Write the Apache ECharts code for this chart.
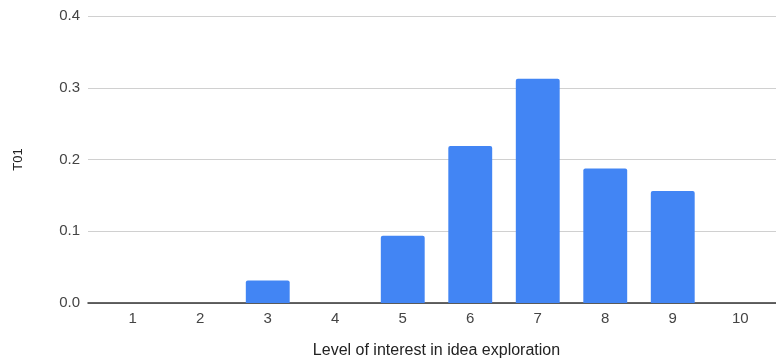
<!DOCTYPE html>
<html>
<head>
<meta charset="utf-8">
<script src="https://cdn.jsdelivr.net/npm/echarts@6/dist/echarts.min.js"></script>
<style>html,body{margin:0;padding:0;background:#fff}#c{width:776px;height:360px}</style>
</head>
<body>
<div id="c"></div>
<script>
const categories = ['1','2','3','4','5','6','7','8','9','10'];
const values = [0, 0, 0.03125, 0, 0.09375, 0.21875, 0.3125, 0.1875, 0.15625, 0];
const yTicks = [0, 0.1, 0.2, 0.3, 0.4];
const xTitle = 'Level of interest in idea exploration';
const yTitle = 'T01';

const font = 'Arial, "Liberation Sans", sans-serif';
const chart = echarts.init(document.getElementById('c'), null, {renderer: 'canvas'});
chart.setOption({
  animation: false,
  textStyle: {fontFamily: font},
  grid: [
    {left: 88, right: 0, top: 16, bottom: 57, containLabel: false, outerBoundsMode: 'none'},
    {left: 99, right: 2, top: 16, bottom: 57, containLabel: false, outerBoundsMode: 'none'}
  ],
  xAxis: [
    {gridIndex: 0, type: 'value', min: 0, max: 1, axisLine: {show: true, onZero: false, lineStyle: {color: '#333', width: 1.5}},
     axisTick: {show: false}, axisLabel: {show: false}, splitLine: {show: false}},
    {gridIndex: 1, type: 'category', data: categories, axisLine: {show: false}, axisTick: {show: false},
     axisLabel: {color: '#444', fontSize: 15, margin: 8, fontFamily: font},
     name: xTitle, nameLocation: 'middle', nameGap: 40,
     nameTextStyle: {color: '#222', fontSize: 16, fontFamily: font}}
  ],
  yAxis: [
    {gridIndex: 0, type: 'value', min: yTicks[0], max: yTicks[yTicks.length-1], interval: 0.1,
     axisLine: {show: false}, axisTick: {show: false},
     axisLabel: {color: '#444', fontSize: 15, margin: 8, fontFamily: font, formatter: v => v.toFixed(1)},
     splitLine: {lineStyle: {color: '#d0d0d0', width: 1}},
     name: yTitle, nameLocation: 'middle', nameGap: 63, nameRotate: 90,
     nameTextStyle: {color: '#222', fontSize: 13, fontFamily: font}},
    {gridIndex: 1, type: 'value', min: yTicks[0], max: yTicks[yTicks.length-1], interval: 0.1,
     show: false, splitLine: {show: false}}
  ],
  series: [{
    type: 'bar', xAxisIndex: 1, yAxisIndex: 1, data: values, barWidth: '65%',
    itemStyle: {color: '#4285F4', borderRadius: [2, 2, 0, 0]}
  }]
});
</script>
</body>
</html>
